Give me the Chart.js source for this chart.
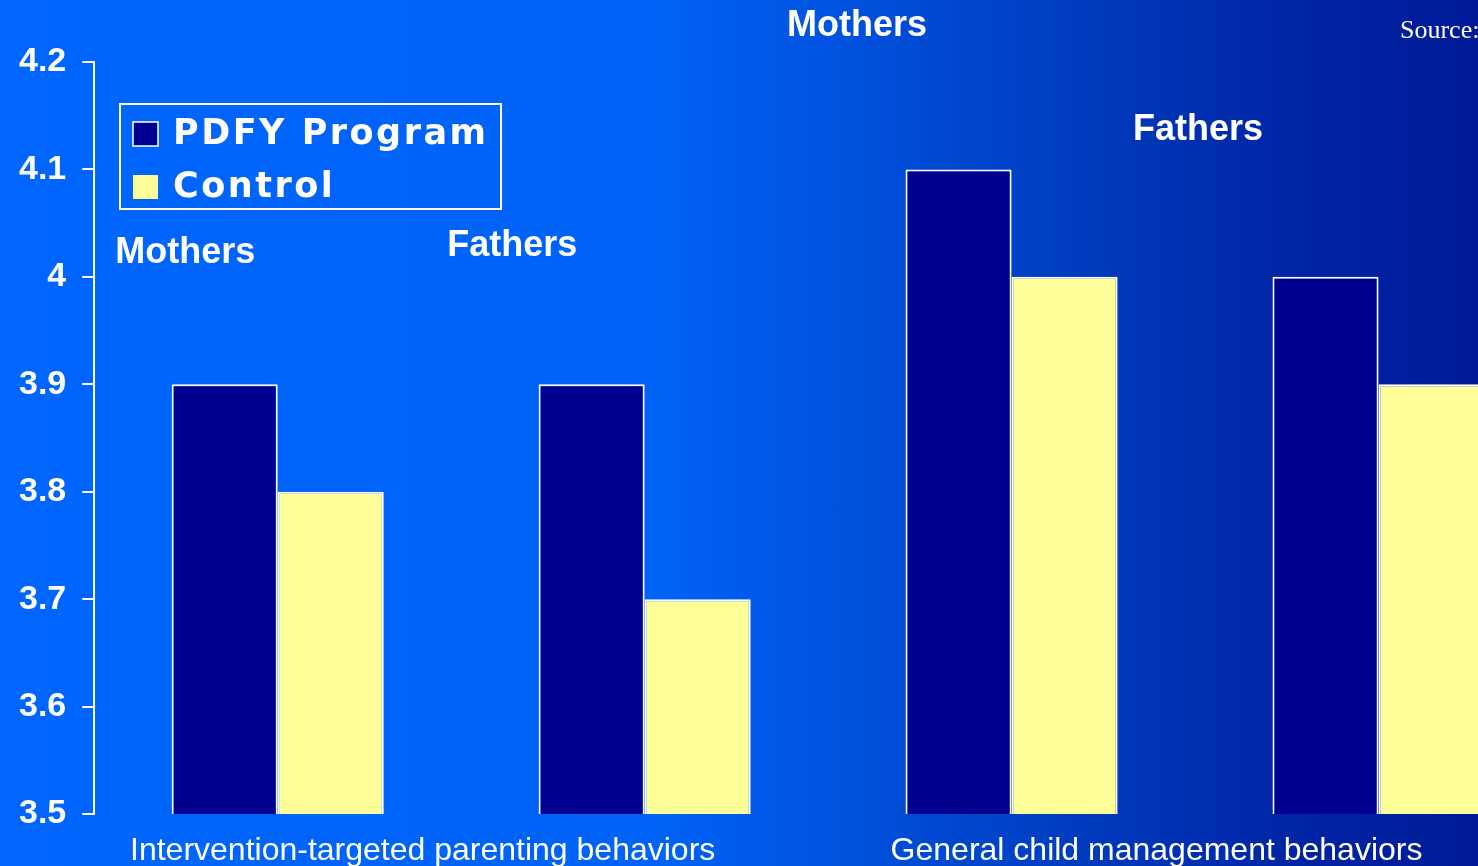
<!DOCTYPE html>
<html lang="en">
<head>
  <meta charset="UTF-8">
  <title>PDFY Program vs Control</title>
  <script src="https://cdn.jsdelivr.net/npm/chart.js"></script>
  <style>
    html, body {
      margin: 0;
      padding: 0;
      overflow: hidden;
    }
    .wrap {
      position: relative;
      width: 1478px;
      height: 866px;
      overflow: hidden;
      background: linear-gradient(to right, #0066ff 0%, #0062f6 45%, #0040c4 70%, #0024a4 88%, #001a98 100%);
    }
    canvas {
      position: absolute;
      left: 0;
      top: 0;
    }
  </style>
</head>
<body>
  <div class="wrap">
    <canvas id="barChart" width="1570" height="866"></canvas>
  </div>

  <script>
    // data
    const categories = ['Mothers', 'Fathers', 'Mothers', 'Fathers'];
    const groupLabels = ['Intervention-targeted parenting behaviors', 'General child management behaviors'];
    const programValues = [3.9, 3.9, 4.1, 4.0];
    const controlValues = [3.8, 3.7, 4.0, 3.9];
    const yTicks = [3.5, 3.6, 3.7, 3.8, 3.9, 4.0, 4.1, 4.2];

    // floating Mothers / Fathers captions: [category offset, y value]
    const captionSpots = [[-0.252, 4.022], [-0.361, 4.029], [-0.421, 4.233], [-0.492, 4.137]];

    const white = '#ffffff';

    const overlay = {
      id: 'overlay',
      afterDraw(chart) {
        const ctx = chart.ctx;
        const x = chart.scales.x;
        const y = chart.scales.y;
        const catW = x.getPixelForValue(1) - x.getPixelForValue(0);
        ctx.save();
        ctx.fillStyle = white;

        // captions over the bars
        ctx.font = 'bold 36px "Liberation Sans", Arial, sans-serif';
        ctx.textAlign = 'center';
        ctx.textBaseline = 'middle';
        categories.forEach((c, i) => {
          const [dx, v] = captionSpots[i];
          ctx.fillText(c, x.getPixelForValue(i) + dx * catW, y.getPixelForValue(v));
        });

        // group labels under the axis
        ctx.font = '32px "Liberation Sans", Arial, sans-serif';
        ctx.textBaseline = 'alphabetic';
        groupLabels.forEach((g, k) => {
          const mid = (x.getPixelForValue(2 * k) + x.getPixelForValue(2 * k + 1)) / 2;
          ctx.fillText(g, mid - 0.105 * catW, 860);
        });

        // legend box
        ctx.strokeStyle = white;
        ctx.lineWidth = 2;
        ctx.strokeRect(120, 104, 381, 105);
        ctx.font = 'bold 35px "DejaVu Sans", Verdana, sans-serif';
        ctx.textAlign = 'left';
        ctx.textBaseline = 'middle';
        if ('letterSpacing' in ctx) ctx.letterSpacing = '2.5px';
        chart.data.datasets.forEach((ds, i) => {
          const cy = 134 + i * 53;
          ctx.fillStyle = ds.backgroundColor;
          ctx.fillRect(133, cy - 12, 25, 24);
          if (i === 0) {
            ctx.lineWidth = 1.5;
            ctx.strokeRect(133, cy - 12, 25, 24);
          }
          ctx.fillStyle = white;
          ctx.fillText(ds.label, 173, cy + 1);
        });
        if ('letterSpacing' in ctx) ctx.letterSpacing = '0px';

        // clipped source note
        ctx.font = '26px "Liberation Serif", "Times New Roman", serif';
        ctx.fillText('Source:', 1400, 31);
        ctx.restore();
      }
    };

    const ctx = document.getElementById('barChart').getContext('2d');
    const chart = new Chart(ctx, {
      type: 'bar',
      data: {
        labels: categories,
        datasets: [
          {
            label: 'PDFY Program',
            data: programValues,
            backgroundColor: '#000090',
            borderColor: white,
            borderWidth: 2,
            borderSkipped: false
          },
          {
            label: 'Control',
            data: controlValues,
            backgroundColor: '#ffff99',
            borderColor: white,
            borderWidth: 2,
            borderSkipped: false
          }
        ]
      },
      options: {
        responsive: false,
        animation: false,
        layout: { padding: { left: 3, top: 62, right: 8, bottom: 44 } },
        datasets: { bar: { barPercentage: 1, categoryPercentage: 0.578 } },
        plugins: {
          legend: { display: false },
          tooltip: { enabled: false }
        },
        scales: {
          x: {
            ticks: { display: false },
            grid: { display: false },
            border: { display: false }
          },
          y: {
            min: 3.5,
            max: 4.2,
            afterBuildTicks: (scale) => { scale.ticks = yTicks.map(v => ({ value: v })); },
            ticks: {
              color: white,
              padding: 16,
              font: { family: '"Liberation Sans", Arial, sans-serif', size: 34, weight: 'bold' },
              callback: (v) => String(+v.toFixed(1))
            },
            grid: { drawOnChartArea: false, drawTicks: true, tickLength: 12, color: white, lineWidth: 2 },
            border: { color: white, width: 2 }
          }
        }
      },
      plugins: [overlay]
    });
  </script>
</body>
</html>
